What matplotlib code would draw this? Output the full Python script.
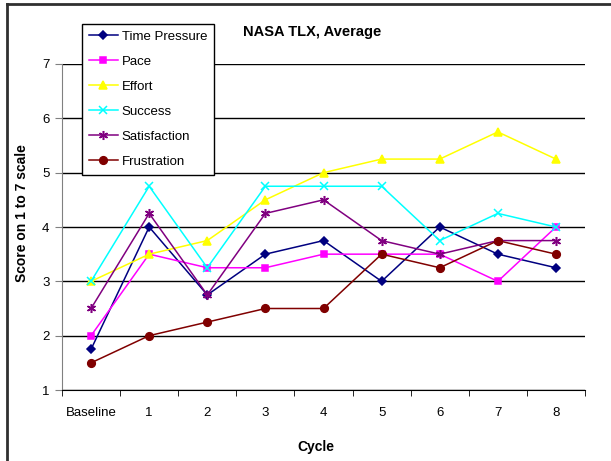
import matplotlib
matplotlib.use("Agg")
import matplotlib.pyplot as plt
from matplotlib.lines import Line2D
import numpy as np

plt.rcParams['font.family'] = ['Liberation Sans', 'DejaVu Sans']

cycles = ["Baseline", "1", "2", "3", "4", "5", "6", "7", "8"]
time_pressure = [1.75, 4.0, 2.75, 3.5, 3.75, 3.0, 4.0, 3.5, 3.25]
pace = [2.0, 3.5, 3.25, 3.25, 3.5, 3.5, 3.5, 3.0, 4.0]
effort = [3.0, 3.5, 3.75, 4.5, 5.0, 5.25, 5.25, 5.75, 5.25]
success = [3.0, 4.75, 3.25, 4.75, 4.75, 4.75, 3.75, 4.25, 4.0]
satisfaction = [2.5, 4.25, 2.75, 4.25, 4.5, 3.75, 3.5, 3.75, 3.75]
frustration = [1.5, 2.0, 2.25, 2.5, 2.5, 3.5, 3.25, 3.75, 3.5]

series = [
    ("Time Pressure", time_pressure, "#000080", "D", 4.5),
    ("Pace", pace, "#FF00FF", "s", 5),
    ("Effort", effort, "#FFFF00", "^", 6),
    ("Success", success, "#00FFFF", "x", 6),
    ("Satisfaction", satisfaction, "#800080", (6, 2, 0), 6.5),
    ("Frustration", frustration, "#800000", "o", 5.5),
]

W, H = 611, 461
fig = plt.figure(figsize=(W / 100, H / 100), dpi=100)

# frame lines of the chart area (top and left only visible)
fig.add_artist(Line2D([7 / W, 1], [1 - 4 / H, 1 - 4 / H], color="#303030", lw=2, transform=fig.transFigure))
fig.add_artist(Line2D([7 / W, 7 / W], [0, 1 - 4 / H], color="#303030", lw=2, transform=fig.transFigure))

ax = fig.add_axes([62 / W, (H - 390) / H, 523 / W, 326 / H])
x = np.arange(len(cycles))
for name, vals, col, mk, ms in series:
    ax.plot(x, vals, color=col, marker=mk, markersize=ms, lw=1.1,
            markeredgecolor=col, markerfacecolor=col, markeredgewidth=1.1, label=name)

ax.set_xlim(-0.5, len(cycles) - 0.5)
ax.set_ylim(1, 7)
ax.set_yticks(range(1, 8))
ax.yaxis.grid(True, color="black", lw=1)
ax.set_axisbelow(True)
ax.set_xticks(x)
ax.set_xticklabels(cycles)
ax.set_xticks(np.arange(-0.5, len(cycles)), minor=True)
ax.tick_params(axis="x", which="major", length=0, pad=12, labelsize=9.5)
ax.tick_params(axis="x", which="minor", length=4, direction="out", color="black")
ax.tick_params(axis="y", length=5, direction="out", color="#808080", labelsize=9.5, pad=4)
for s in ["top", "right"]:
    ax.spines[s].set_visible(False)
ax.spines["left"].set_color("#808080")
ax.spines["bottom"].set_color("black")

fig.text(312 / W, 1 - 32 / H, "NASA TLX, Average", ha="center", va="center",
         fontsize=10.5, fontweight="bold")
fig.text(22 / W, 1 - 213 / H, "Score on 1 to 7 scale", ha="center", va="center",
         rotation=90, fontsize=10, fontweight="bold")
fig.text(316 / W, 1 - 447 / H, "Cycle", ha="center", va="center",
         fontsize=10, fontweight="bold")

leg = fig.legend(loc="upper left", bbox_to_anchor=(82 / W, 1 - 24 / H), borderaxespad=0,
                 fancybox=False, edgecolor="black", framealpha=1, fontsize=9.5,
                 handlelength=2.2, handletextpad=0.3, labelspacing=0.97,
                 borderpad=0.5)
leg.get_frame().set_linewidth(1)

fig.savefig("out.png", dpi=100)
